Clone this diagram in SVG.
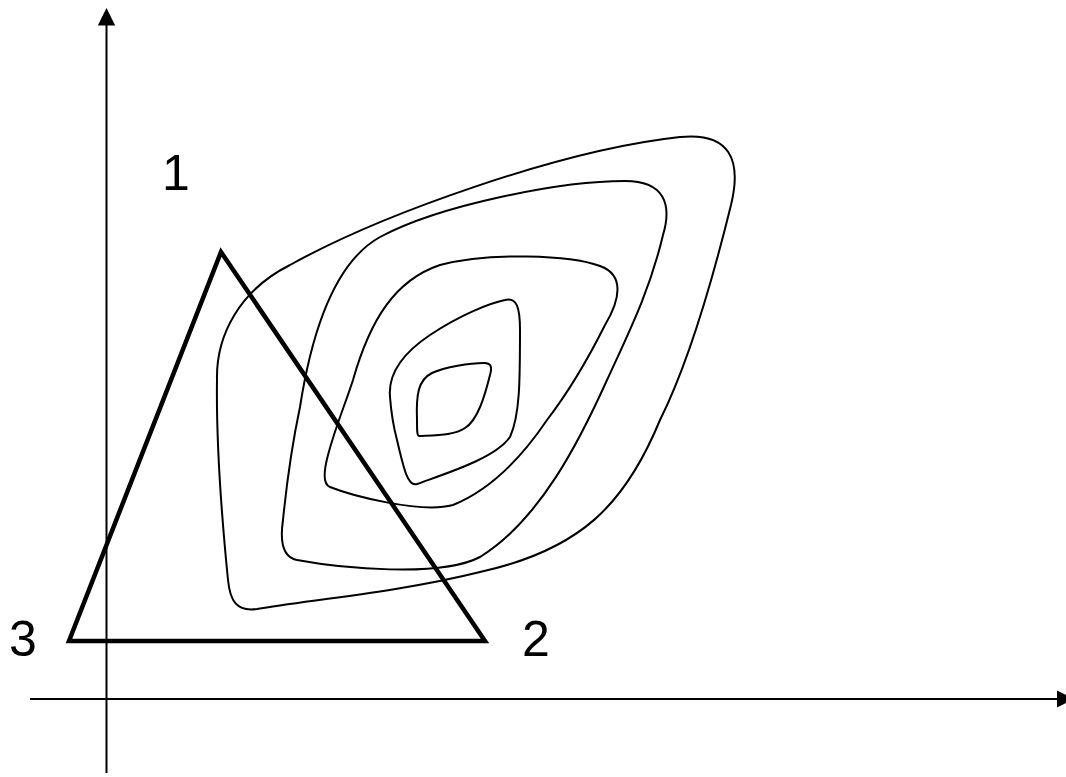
<svg xmlns="http://www.w3.org/2000/svg" width="1066" height="777" viewBox="0 0 1066 777">
<style>
.axis{stroke:#000;stroke-width:2;fill:none}
.contour{stroke:#000;stroke-width:2;fill:none;stroke-linejoin:round}
.tri{stroke:#000;stroke-width:4.5;fill:none;stroke-linejoin:miter}
.lbl{font-family:"Liberation Sans",Arial,sans-serif;font-size:50px;fill:#000;text-anchor:middle}
</style>
<rect width="1066" height="777" fill="#fff"/>
<g id="axes">
<line class="axis" x1="106.5" y1="773" x2="106.5" y2="22"/>
<polygon points="106.5,8 97.8,25.5 115.2,25.5" fill="#000"/>
<line class="axis" x1="30" y1="699" x2="1060" y2="699"/>
<polygon points="1074,699 1057,690.5 1057,707.5" fill="#000"/>
</g>
<g id="contours">
<path id="c1" class="contour" d="M 217,380 C 216,335 240,290 290,265 C 380,215 560,150 680,137 C 730,132 742,160 731,205 C 715,270 690,360 660,420 C 625,505 580,550 480,572 C 400,592 310,600 257,609 C 236,612 230,600 228,580 C 224,540 216,450 217,380 Z"/>
<path id="c2" class="contour" d="M 300,407 C 312,330 335,262 380,237 C 440,205 560,181 625,181 C 665,181 672,205 663,235 C 650,290 630,330 607,380 C 580,440 540,520 480,557 C 440,578 340,568 297,560 C 282,557 280,540 283,520 C 288,470 293,440 300,407 Z"/>
<path id="c3" class="contour" d="M 353,380 C 370,320 395,280 440,265 C 490,252 570,255 600,266 C 625,275 620,300 605,325 C 590,355 570,390 547,420 C 520,460 490,490 453,505 C 420,514 350,495 330,487 C 322,484 324,470 328,455 C 336,425 345,405 353,380 Z"/>
<path id="c4" class="contour" d="M 390,397 C 388,375 400,355 430,335 C 460,315 490,303 505,300 C 517,297 520,308 520,330 C 520,380 520,415 510,437 C 495,458 450,472 417,484 C 408,487 404,470 397,440 C 393,425 391,410 390,397 Z"/>
<path id="c5" class="contour" d="M 417,420 C 416,395 418,380 432,373 C 445,367 470,363 484,363 C 492,363 492,368 490,375 C 485,395 478,420 465,428 C 455,435 438,435 419,436 C 417,436 417,430 417,420 Z"/>
</g>
<g id="triangle">
<polygon class="tri" points="221,252 485,641 69,641"/>
</g>
<g id="labels">
<text class="lbl" x="176" y="190">1</text>
<text class="lbl" x="536" y="656">2</text>
<text class="lbl" x="23" y="656">3</text>
</g>
</svg>
